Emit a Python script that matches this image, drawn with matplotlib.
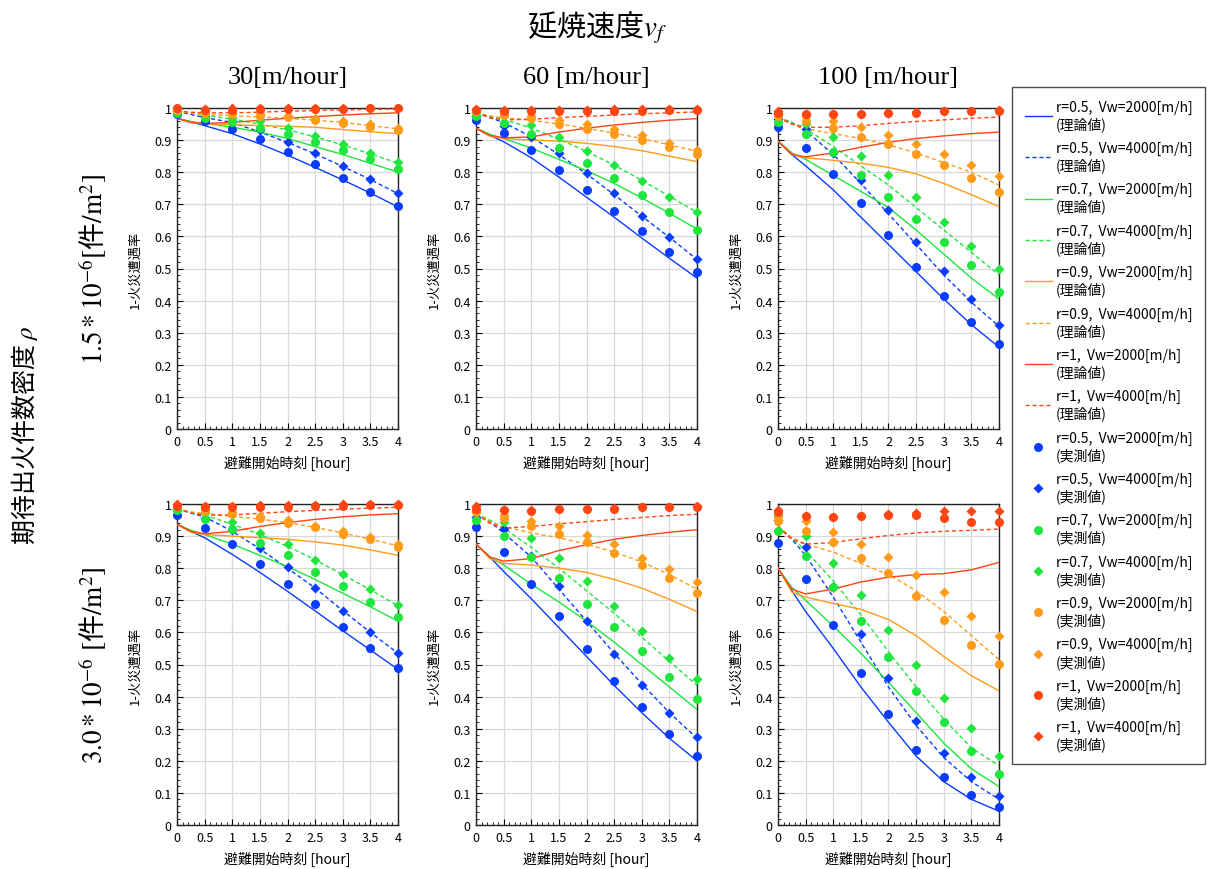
import matplotlib
matplotlib.use('Agg')
import matplotlib.pyplot as plt
from matplotlib.ticker import MultipleLocator, FuncFormatter

plt.rcParams['font.family'] = ['Noto Sans CJK JP', 'DejaVu Sans']
plt.rcParams['mathtext.fontset'] = 'stix'

# x grids (hours)
t_hours = [0, 0.25, 0.5, 1, 1.5, 2, 2.5, 3, 3.5, 4]
m_hours = [0, 0.5, 1, 1.5, 2, 2.5, 3, 3.5, 4]

col_titles = ['30[m/hour]', '60 [m/hour]', '100 [m/hour]']
row_titles = [r'$1.5*10^{-6}[$件$/\mathrm{m}^2]$', r'$3.0*10^{-6}\ [$件$/\mathrm{m}^2]$']
case_names = ['r=0.5,  Vw=2000[m/h]', 'r=0.5,  Vw=4000[m/h]',
              'r=0.7,  Vw=2000[m/h]', 'r=0.7,  Vw=4000[m/h]',
              'r=0.9,  Vw=2000[m/h]', 'r=0.9,  Vw=4000[m/h]',
              'r=1,  Vw=2000[m/h]', 'r=1,  Vw=4000[m/h]']

# theory curves, order: r0.5/2000, r0.5/4000, r0.7/2000, r0.7/4000, r0.9/2000, r0.9/4000, r1/2000, r1/4000
top_30_theory = [
    [0.968, 0.957, 0.945, 0.92, 0.888, 0.853, 0.815, 0.776, 0.735, 0.692],
    [0.99, 0.98, 0.97, 0.955, 0.925, 0.893, 0.857, 0.818, 0.777, 0.733],
    [0.968, 0.958, 0.952, 0.94, 0.925, 0.905, 0.88, 0.855, 0.828, 0.80],
    [0.99, 0.985, 0.978, 0.965, 0.95, 0.932, 0.91, 0.885, 0.857, 0.828],
    [0.968, 0.955, 0.95, 0.948, 0.945, 0.943, 0.94, 0.933, 0.926, 0.92],
    [0.99, 0.984, 0.98, 0.976, 0.972, 0.968, 0.962, 0.955, 0.945, 0.935],
    [0.968, 0.955, 0.952, 0.955, 0.962, 0.968, 0.973, 0.978, 0.982, 0.985],
    [0.99, 0.987, 0.985, 0.985, 0.987, 0.99, 0.992, 0.994, 0.996, 0.997],
]
top_30_meas = [
    [0.982, 0.961, 0.934, 0.904, 0.863, 0.825, 0.782, 0.737, 0.696],
    [0.99, 0.975, 0.96, 0.93, 0.893, 0.859, 0.819, 0.778, 0.734],
    [0.985, 0.97, 0.955, 0.939, 0.92, 0.895, 0.87, 0.84, 0.811],
    [0.99, 0.98, 0.97, 0.958, 0.939, 0.913, 0.887, 0.859, 0.831],
    [0.995, 0.985, 0.98, 0.974, 0.972, 0.963, 0.953, 0.942, 0.93],
    [0.998, 0.99, 0.985, 0.98, 0.975, 0.969, 0.961, 0.95, 0.939],
    [1.0, 0.995, 0.995, 0.997, 0.997, 0.998, 0.998, 0.999, 1.0],
    [1.0, 0.998, 0.999, 1.0, 1.0, 1.0, 1.0, 1.0, 1.0],
]

top_60_theory = [
    [0.937, 0.915, 0.895, 0.845, 0.785, 0.722, 0.66, 0.595, 0.532, 0.47],
    [0.985, 0.97, 0.955, 0.91, 0.855, 0.795, 0.73, 0.663, 0.597, 0.528],
    [0.937, 0.918, 0.905, 0.875, 0.84, 0.805, 0.765, 0.72, 0.672, 0.623],
    [0.985, 0.975, 0.965, 0.937, 0.903, 0.865, 0.822, 0.775, 0.725, 0.675],
    [0.937, 0.912, 0.905, 0.90, 0.897, 0.89, 0.88, 0.867, 0.85, 0.833],
    [0.985, 0.975, 0.97, 0.962, 0.95, 0.937, 0.922, 0.905, 0.885, 0.865],
    [0.937, 0.915, 0.907, 0.91, 0.925, 0.937, 0.947, 0.955, 0.962, 0.967],
    [0.985, 0.97, 0.963, 0.965, 0.97, 0.974, 0.978, 0.982, 0.985, 0.988],
]
top_60_meas = [
    [0.964, 0.922, 0.869, 0.806, 0.745, 0.678, 0.616, 0.552, 0.489],
    [0.975, 0.945, 0.91, 0.86, 0.797, 0.735, 0.664, 0.598, 0.53],
    [0.975, 0.953, 0.92, 0.876, 0.83, 0.781, 0.728, 0.677, 0.621],
    [0.985, 0.974, 0.947, 0.911, 0.867, 0.823, 0.773, 0.724, 0.675],
    [0.99, 0.978, 0.969, 0.95, 0.935, 0.92, 0.901, 0.878, 0.857],
    [0.995, 0.985, 0.976, 0.962, 0.95, 0.936, 0.915, 0.891, 0.87],
    [0.995, 0.99, 0.99, 0.99, 0.99, 0.991, 0.992, 0.993, 0.995],
    [0.998, 0.993, 0.993, 0.994, 0.995, 0.996, 0.997, 0.998, 0.998],
]

top_100_theory = [
    [0.897, 0.855, 0.82, 0.745, 0.66, 0.575, 0.49, 0.405, 0.325, 0.255],
    [0.97, 0.955, 0.93, 0.855, 0.765, 0.67, 0.575, 0.48, 0.395, 0.32],
    [0.897, 0.86, 0.84, 0.79, 0.74, 0.69, 0.62, 0.545, 0.47, 0.405],
    [0.97, 0.955, 0.935, 0.88, 0.82, 0.76, 0.69, 0.62, 0.55, 0.48],
    [0.897, 0.855, 0.845, 0.837, 0.828, 0.815, 0.795, 0.765, 0.73, 0.693],
    [0.97, 0.95, 0.935, 0.92, 0.905, 0.885, 0.86, 0.83, 0.80, 0.76],
    [0.897, 0.855, 0.848, 0.86, 0.878, 0.893, 0.905, 0.913, 0.92, 0.925],
    [0.97, 0.95, 0.94, 0.94, 0.945, 0.952, 0.958, 0.963, 0.968, 0.972],
]
top_100_meas = [
    [0.94, 0.875, 0.795, 0.703, 0.603, 0.505, 0.414, 0.333, 0.265],
    [0.965, 0.935, 0.86, 0.776, 0.682, 0.581, 0.492, 0.404, 0.325],
    [0.956, 0.918, 0.862, 0.792, 0.724, 0.655, 0.584, 0.51, 0.428],
    [0.98, 0.95, 0.909, 0.852, 0.79, 0.722, 0.645, 0.569, 0.50],
    [0.975, 0.96, 0.937, 0.91, 0.888, 0.856, 0.823, 0.782, 0.739],
    [0.985, 0.974, 0.958, 0.94, 0.916, 0.888, 0.857, 0.823, 0.789],
    [0.985, 0.98, 0.98, 0.98, 0.985, 0.985, 0.99, 0.99, 0.99],
    [0.99, 0.98, 0.98, 0.98, 0.985, 0.988, 0.99, 0.99, 0.993],
]

bot_30_theory = [
    [0.937, 0.915, 0.895, 0.843, 0.787, 0.728, 0.667, 0.605, 0.545, 0.485],
    [0.985, 0.972, 0.96, 0.915, 0.86, 0.80, 0.738, 0.668, 0.60, 0.535],
    [0.937, 0.918, 0.905, 0.875, 0.84, 0.805, 0.765, 0.722, 0.68, 0.635],
    [0.985, 0.975, 0.965, 0.937, 0.905, 0.868, 0.826, 0.78, 0.733, 0.683],
    [0.937, 0.912, 0.905, 0.90, 0.895, 0.89, 0.882, 0.872, 0.857, 0.84],
    [0.985, 0.975, 0.97, 0.962, 0.953, 0.942, 0.927, 0.91, 0.89, 0.87],
    [0.937, 0.915, 0.907, 0.915, 0.93, 0.942, 0.952, 0.96, 0.966, 0.97],
    [0.985, 0.972, 0.965, 0.966, 0.971, 0.976, 0.98, 0.984, 0.987, 0.99],
]
bot_30_meas = [
    [0.966, 0.926, 0.875, 0.812, 0.751, 0.688, 0.618, 0.551, 0.488],
    [0.98, 0.955, 0.918, 0.863, 0.805, 0.739, 0.667, 0.60, 0.537],
    [0.98, 0.953, 0.922, 0.878, 0.84, 0.788, 0.745, 0.694, 0.648],
    [0.985, 0.972, 0.945, 0.911, 0.876, 0.826, 0.783, 0.734, 0.685],
    [0.995, 0.978, 0.97, 0.955, 0.942, 0.928, 0.908, 0.89, 0.867],
    [0.998, 0.985, 0.975, 0.963, 0.95, 0.932, 0.917, 0.898, 0.875],
    [0.995, 0.99, 0.99, 0.99, 0.99, 0.993, 0.995, 0.996, 0.997],
    [1.0, 0.995, 0.995, 0.996, 0.997, 0.998, 0.999, 1.0, 1.0],
]

bot_60_theory = [
    [0.875, 0.835, 0.79, 0.705, 0.615, 0.525, 0.435, 0.35, 0.27, 0.20],
    [0.97, 0.945, 0.91, 0.835, 0.735, 0.635, 0.535, 0.44, 0.35, 0.27],
    [0.875, 0.835, 0.81, 0.75, 0.695, 0.635, 0.57, 0.50, 0.43, 0.36],
    [0.97, 0.95, 0.925, 0.865, 0.80, 0.73, 0.66, 0.585, 0.51, 0.435],
    [0.875, 0.83, 0.815, 0.81, 0.80, 0.787, 0.765, 0.738, 0.703, 0.665],
    [0.97, 0.945, 0.93, 0.91, 0.895, 0.875, 0.85, 0.82, 0.78, 0.735],
    [0.875, 0.835, 0.822, 0.83, 0.855, 0.873, 0.89, 0.902, 0.912, 0.92],
    [0.97, 0.94, 0.925, 0.93, 0.938, 0.945, 0.952, 0.958, 0.964, 0.968],
]
bot_60_meas = [
    [0.929, 0.851, 0.752, 0.65, 0.548, 0.45, 0.367, 0.284, 0.214],
    [0.96, 0.922, 0.838, 0.746, 0.635, 0.533, 0.435, 0.35, 0.274],
    [0.949, 0.901, 0.835, 0.77, 0.69, 0.618, 0.543, 0.462, 0.391],
    [0.975, 0.943, 0.894, 0.832, 0.759, 0.681, 0.604, 0.52, 0.455],
    [0.976, 0.955, 0.933, 0.908, 0.883, 0.848, 0.811, 0.77, 0.724],
    [0.98, 0.966, 0.948, 0.931, 0.903, 0.874, 0.832, 0.797, 0.756],
    [0.985, 0.98, 0.978, 0.983, 0.983, 0.985, 0.99, 0.99, 0.99],
    [0.993, 0.98, 0.98, 0.984, 0.985, 0.986, 0.99, 0.992, 0.993],
]

bot_100_theory = [
    [0.80, 0.73, 0.665, 0.55, 0.43, 0.32, 0.215, 0.135, 0.08, 0.043],
    [0.93, 0.89, 0.84, 0.71, 0.57, 0.43, 0.31, 0.21, 0.135, 0.08],
    [0.80, 0.74, 0.70, 0.62, 0.535, 0.445, 0.35, 0.255, 0.175, 0.12],
    [0.93, 0.895, 0.855, 0.76, 0.655, 0.54, 0.43, 0.33, 0.24, 0.185],
    [0.80, 0.725, 0.71, 0.69, 0.672, 0.64, 0.59, 0.525, 0.465, 0.418],
    [0.93, 0.895, 0.875, 0.85, 0.815, 0.78, 0.73, 0.665, 0.59, 0.515],
    [0.80, 0.735, 0.72, 0.735, 0.757, 0.772, 0.78, 0.783, 0.795, 0.818],
    [0.93, 0.89, 0.875, 0.88, 0.892, 0.902, 0.91, 0.915, 0.918, 0.922],
]
bot_100_meas = [
    [0.878, 0.765, 0.624, 0.473, 0.345, 0.234, 0.15, 0.094, 0.057],
    [0.95, 0.865, 0.74, 0.595, 0.457, 0.325, 0.225, 0.148, 0.089],
    [0.915, 0.839, 0.74, 0.637, 0.522, 0.416, 0.321, 0.23, 0.159],
    [0.965, 0.901, 0.815, 0.718, 0.609, 0.50, 0.395, 0.301, 0.214],
    [0.946, 0.917, 0.881, 0.833, 0.786, 0.713, 0.638, 0.561, 0.503],
    [0.96, 0.946, 0.914, 0.875, 0.834, 0.78, 0.725, 0.652, 0.588],
    [0.975, 0.962, 0.958, 0.963, 0.967, 0.965, 0.956, 0.945, 0.943],
    [0.98, 0.964, 0.96, 0.964, 0.969, 0.972, 0.977, 0.977, 0.977],
]

theory_sets = [[top_30_theory, top_60_theory, top_100_theory],
               [bot_30_theory, bot_60_theory, bot_100_theory]]
meas_sets = [[top_30_meas, top_60_meas, top_100_meas],
             [bot_30_meas, bot_60_meas, bot_100_meas]]

colors = ['#0a3cff', '#0a3cff', '#1ee63c', '#1ee63c',
          '#ff9b19', '#ff9b19', '#ff4514', '#ff4514']
styles = ['-', '--'] * 4
markers = ['o', 'D'] * 4
msizes = [6.5, 5.5] * 4

fig = plt.figure(figsize=(12.07, 8.70), dpi=100)

lefts = [177 / 1207, 476 / 1207, 778 / 1207]
bottoms = [440 / 870, 44 / 870]
w = 221 / 1207
h = 321 / 870

fmt = FuncFormatter(lambda v, p: '%g' % v)

for i in range(2):
    for j in range(3):
        ax = fig.add_axes([lefts[j], bottoms[i], w, h])
        th = theory_sets[i][j]
        ms = meas_sets[i][j]
        for k in range(8):
            ax.plot(t_hours, th[k], color=colors[k], ls=styles[k], lw=1.0,
                    dashes=(3, 2) if styles[k] == '--' else (None, None),
                    label=case_names[k] + '\n(理論値)', zorder=3)
        for k in range(8):
            ax.plot(m_hours, ms[k], color=colors[k], ls='none', marker=markers[k],
                    ms=msizes[k], mec='none', label=case_names[k] + '\n(実測値)',
                    clip_on=False, zorder=4)
        ax.set_xlim(0, 4)
        ax.set_ylim(0, 1)
        ax.xaxis.set_major_locator(MultipleLocator(0.5))
        ax.xaxis.set_minor_locator(MultipleLocator(0.1))
        ax.yaxis.set_major_locator(MultipleLocator(0.1))
        ax.yaxis.set_minor_locator(MultipleLocator(0.02))
        ax.xaxis.set_major_formatter(fmt)
        ax.yaxis.set_major_formatter(fmt)
        ax.tick_params(which='both', direction='in', labelsize=9, pad=4)
        ax.tick_params(which='major', length=4)
        ax.tick_params(which='minor', length=2.5)
        ax.grid(True, which='major', color='#d9d9d9', lw=0.9)
        ax.set_axisbelow(True)
        for s in ax.spines.values():
            s.set_color('#222222')
            s.set_linewidth(1.0)
        ax.set_xlabel('避難開始時刻 [hour]', fontsize=10, labelpad=5)
        ax.set_ylabel('1-火災遭遇率', fontsize=9.5, labelpad=9)
        if i == 0:
            ax.set_title(col_titles[j], fontsize=19, pad=18,
                         family=['Liberation Serif', 'Noto Sans CJK JP'])
        if j == 0:
            ax.text(-0.38, 0.5, row_titles[i], transform=ax.transAxes,
                    rotation=90, ha='center', va='center', fontsize=19.5)
        if i == 0 and j == 0:
            handles, labels = ax.get_legend_handles_labels()

fig.text(597 / 1207, 1 - 28 / 870, '延焼速度$v_f$', ha='center', va='center',
         fontsize=21)
fig.text(25 / 1207, 0.5, '期待出火件数密度 $\\rho$', rotation=90,
         ha='center', va='center', fontsize=18)

leg = fig.legend(handles, labels, loc='upper left',
                 bbox_to_anchor=(1012 / 1207, 1 - 88 / 870),
                 fontsize=10, frameon=True, fancybox=False, numpoints=1,
                 handlelength=2.0, handletextpad=0.25, labelspacing=0.72,
                 borderpad=0.9, borderaxespad=0)
leg.get_frame().set_edgecolor('#222222')
leg.get_frame().set_linewidth(1.0)

fig.savefig('out.png', dpi=100)
